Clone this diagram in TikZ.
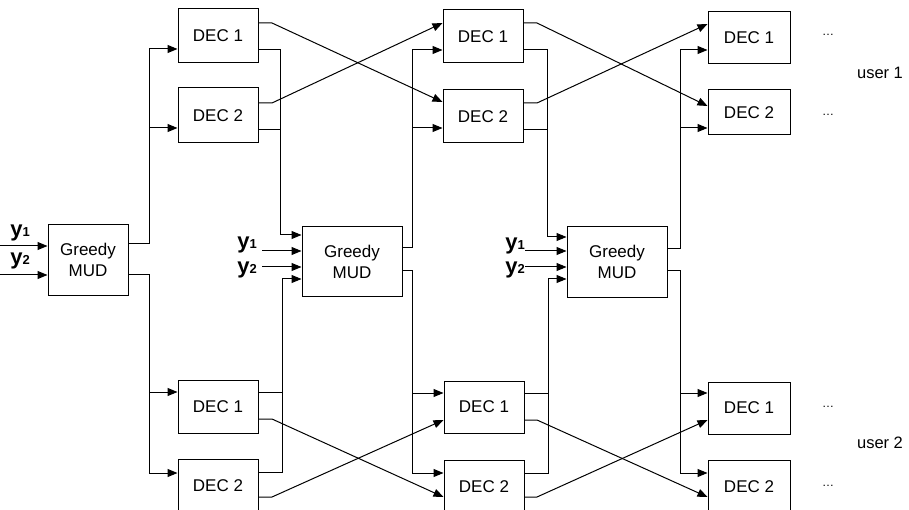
\documentclass[tikz,border=0pt]{standalone}
\usepackage{fontspec}
\setmainfont{Liberation Sans}
\usetikzlibrary{arrows.meta}
\tikzset{
  x=1pt, y=-1pt,
  box/.style={draw, line width=1pt, inner sep=0pt, align=center,
    font=\fontsize{17}{21}\selectfont},
  dec/.style={box, minimum width=80pt, minimum height=54pt},
  mud/.style={box, minimum width=100pt, minimum height=70pt},
  wire/.style={line width=1pt},
  arr/.style={wire, -{Triangle[length=10pt,width=8pt]}},
  ylab/.style={inner sep=0pt, font=\fontsize{22}{24}\selectfont},
  dots/.style={inner sep=0pt, font=\fontsize{12}{14}\selectfont},
  usr/.style={inner sep=0pt, font=\fontsize{16.5}{18}\selectfont}
}
\newcommand{\ysub}[1]{\textbf{y}{\fontsize{13}{13}\selectfont\textbf{#1}}}
\begin{document}
\begin{tikzpicture}
\clip (0,0) rectangle (909,510);
\fill[white] (0,0) rectangle (909,510);
% Greedy MUD blocks
\node[mud, minimum width=80pt] (M1) at (88,260) {Greedy\\MUD};
\node[mud, minimum height=69pt] (M2) at (352,261.5) {Greedy\\MUD};
\node[mud] (M3) at (617,262) {Greedy\\MUD};
% column 1
\node[dec] (U1a) at (218,36) {DEC 1};
\node[dec, minimum height=55pt] (U1b) at (218,115.5) {DEC 2};
\node[dec, minimum height=53pt] (L1a) at (218,406.5) {DEC 1};
\node[dec] (L1b) at (218,486) {DEC 2};
% column 2
\node[dec, minimum height=53pt] (U2a) at (483,36.5) {DEC 1};
\node[dec, minimum height=53pt] (U2b) at (483,116.5) {DEC 2};
\node[dec, minimum height=52pt] (L2a) at (484,407) {DEC 1};
\node[dec] (L2b) at (484,487) {DEC 2};
% column 3
\node[dec, minimum width=82pt, minimum height=52pt] (U3a) at (749,38) {DEC 1};
\node[dec, minimum width=82pt, minimum height=45pt] (U3b) at (749,112.5) {DEC 2};
\node[dec, minimum width=82pt, minimum height=52pt] (L3a) at (749,408) {DEC 1};
\node[dec, minimum width=82pt] (L3b) at (749,487) {DEC 2};
% free ends of the received signals
\coordinate (a1) at (0,246);
\coordinate (a2) at (0,275);
\coordinate (b1) at (262,251);
\coordinate (b2) at (262,267);
\coordinate (c1) at (525,251);
\coordinate (c2) at (525,267);
% y labels
\node[ylab] (la1) at (20,233) {\ysub{1}};
\node[ylab] (la2) at (20,261) {\ysub{2}};
\node[ylab] (lb1) at (247,245) {\ysub{1}};
\node[ylab] (lb2) at (247,270) {\ysub{2}};
\node[ylab] (lc1) at (515,246) {\ysub{1}};
\node[ylab] (lc2) at (515,270) {\ysub{2}};
% inputs
\draw[arr] (a1) -- (M1.west |- a1);
\draw[arr] (a2) -- (M1.west |- a2);
\draw[arr] (b1) -- (M2.west |- b1);
\draw[arr] (b2) -- (M2.west |- b2);
\draw[arr] (c1) -- (M3.west |- c1);
\draw[arr] (c2) -- (M3.west |- c2);
% MUD1 outputs
\draw[arr] (M1.east |- 0,244) -- (149,244) -- (149,49) -- (U1a.west |- 0,49);
\draw[arr] (149,128) -- (U1b.west |- 0,128);
\draw[arr] (M1.east |- 0,275) -- (149,275) -- (149,473) -- (L1b.west |- 0,473);
\draw[arr] (149,392) -- (L1a.west |- 0,392);
% column 1 to MUD2
\draw[arr] (U1a.east |- 0,50) -- (280,50) -- (280,235) -- (M2.west |- 0,235);
\draw[wire] (U1b.east |- 0,130) -- (280,130);
\draw[arr] (L1b.east |- 0,472) -- (282,472) -- (282,279) -- (M2.west |- 0,279);
\draw[wire] (L1a.east |- 0,392) -- (282,392);
% column 1 crossovers
\draw[arr] (U1a.east |- 0,23) -- (272,23) -- (U2b.west |- 0,102);
\draw[arr] (U1b.east |- 0,103) -- (272,103) -- (U2a.west |- 0,23);
\draw[arr] (L1a.east |- 0,419) -- (272,419) -- (L2b.west |- 0,497);
\draw[arr] (L1b.east |- 0,497) -- (272,497) -- (L2a.west |- 0,420);
% MUD2 outputs
\draw[arr] (M2.east |- 0,248) -- (412,248) -- (412,50) -- (U2a.west |- 0,50);
\draw[arr] (412,128) -- (U2b.west |- 0,128);
\draw[arr] (M2.east |- 0,271) -- (412,271) -- (412,473) -- (L2b.west |- 0,473);
\draw[arr] (412,393) -- (L2a.west |- 0,393);
% column 2 to MUD3
\draw[arr] (U2a.east |- 0,50) -- (547,50) -- (547,237) -- (M3.west |- 0,237);
\draw[wire] (U2b.east |- 0,130) -- (547,130);
\draw[arr] (L2b.east |- 0,473) -- (548,473) -- (548,279) -- (M3.west |- 0,279);
\draw[wire] (L2a.east |- 0,393) -- (548,393);
% column 2 crossovers
\draw[arr] (U2a.east |- 0,23) -- (537,23) -- (U3b.west |- 0,106);
\draw[arr] (U2b.east |- 0,103) -- (537,103) -- (U3a.west |- 0,24);
\draw[arr] (L2a.east |- 0,420) -- (537,420) -- (L3b.west |- 0,497);
\draw[arr] (L2b.east |- 0,497) -- (537,497) -- (L3a.west |- 0,420);
% MUD3 outputs
\draw[arr] (M3.east |- 0,249) -- (680,249) -- (680,50) -- (U3a.west |- 0,50);
\draw[arr] (680,128) -- (U3b.west |- 0,128);
\draw[arr] (M3.east |- 0,271) -- (680,271) -- (680,473) -- (L3b.west |- 0,473);
\draw[arr] (680,393) -- (L3a.west |- 0,393);
% continuation dots and user labels
\node[dots] (d1) at (828,35) {\ldots};
\node[dots] (d2) at (828,115) {\ldots};
\node[dots] (d3) at (828,407) {\ldots};
\node[dots] (d4) at (828,486) {\ldots};
\node[usr] (u1) at (880,73) {user 1};
\node[usr] (u2) at (880,443) {user 2};
\end{tikzpicture}
\end{document}
